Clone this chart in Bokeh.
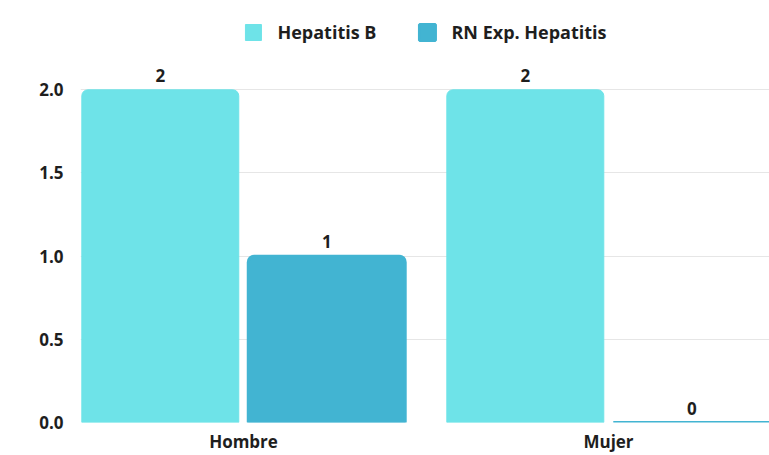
from bokeh.plotting import figure
from bokeh.models import ColumnDataSource, Legend, LegendItem, FixedTicker, Range1d, NumeralTickFormatter
from bokeh.core.properties import value
from bokeh.embed import file_html
from bokeh.resources import INLINE

categories = ["Hombre", "Mujer"]
series_names = ["Hepatitis B", "RN Exp. Hepatitis"]
hepatitis_b = [2, 2]
rn_exp_hepatitis = [1, 0]
y_ticks = [0, 0.5, 1.0, 1.5, 2.0]

colors = ["#6ee3e8", "#42b4d2"]
FONT = "Open Sans"

p = figure(width=769, height=455, output_backend="svg", toolbar_location=None,
           x_range=Range1d(-0.4466, 1.441), y_range=Range1d(0, 2.537),
           min_border_left=80, min_border_right=0, min_border_top=0, min_border_bottom=30)
p.outline_line_color = None
p.background_fill_color = "white"
p.border_fill_color = "white"

xs = list(range(len(categories)))
offset = 0.228
bw = 0.43

renderers = []
for i, (name, vals) in enumerate(zip(series_names, [hepatitis_b, rn_exp_hepatitis])):
    sx = [x + (-offset if i == 0 else offset) for x in xs]
    src = ColumnDataSource(dict(x=sx, top=vals, label=[str(v) for v in vals]))
    r = p.vbar(x="x", top="top", width=bw, source=src, fill_color=colors[i],
               line_color=colors[i], line_width=(1 if i == 0 else 3),
               border_radius=(6, 6, 0, 0))
    renderers.append(r)
    p.text(x="x", y="top", text="label", source=src, text_align="center",
           text_baseline="bottom", y_offset=-8, text_font=value(FONT),
           text_font_style="bold", text_font_size="17px", text_color="#1e1e1e")

legend = Legend(items=[LegendItem(label=n, renderers=[r]) for n, r in zip(series_names, renderers)],
                orientation="horizontal", location="top_center")
legend.label_text_font = FONT
legend.label_text_font_style = "bold"
legend.label_text_font_size = "18px"
legend.label_text_color = "#1e1e1e"
legend.glyph_width = 20
legend.glyph_height = 20
legend.label_standoff = 15
legend.spacing = 40
legend.padding = 0
legend.margin = 20
legend.border_line_color = None
legend.background_fill_alpha = 0
p.add_layout(legend, "center")

p.xaxis.ticker = FixedTicker(ticks=xs)
p.xaxis.major_label_overrides = {x: c for x, c in zip(xs, categories)}
p.yaxis.ticker = FixedTicker(ticks=y_ticks)
p.yaxis.formatter = NumeralTickFormatter(format="0.0")

for ax in (p.xaxis[0], p.yaxis[0]):
    ax.axis_line_color = None
    ax.major_tick_line_color = None
    ax.minor_tick_line_color = None
    ax.major_tick_out = 0
    ax.major_tick_in = 0
    ax.major_label_text_font = FONT
    ax.major_label_text_font_style = "bold"
    ax.major_label_text_font_size = "17px"
    ax.major_label_text_color = "#1e1e1e"
p.xaxis.major_label_standoff = 7
p.yaxis.major_label_standoff = 17

p.xgrid.grid_line_color = None
p.ygrid.grid_line_color = "#e6e6e6"
p.ygrid.grid_line_width = 1
p.ygrid.ticker = FixedTicker(ticks=y_ticks)

open("out.html", "w").write(file_html(p, INLINE))
